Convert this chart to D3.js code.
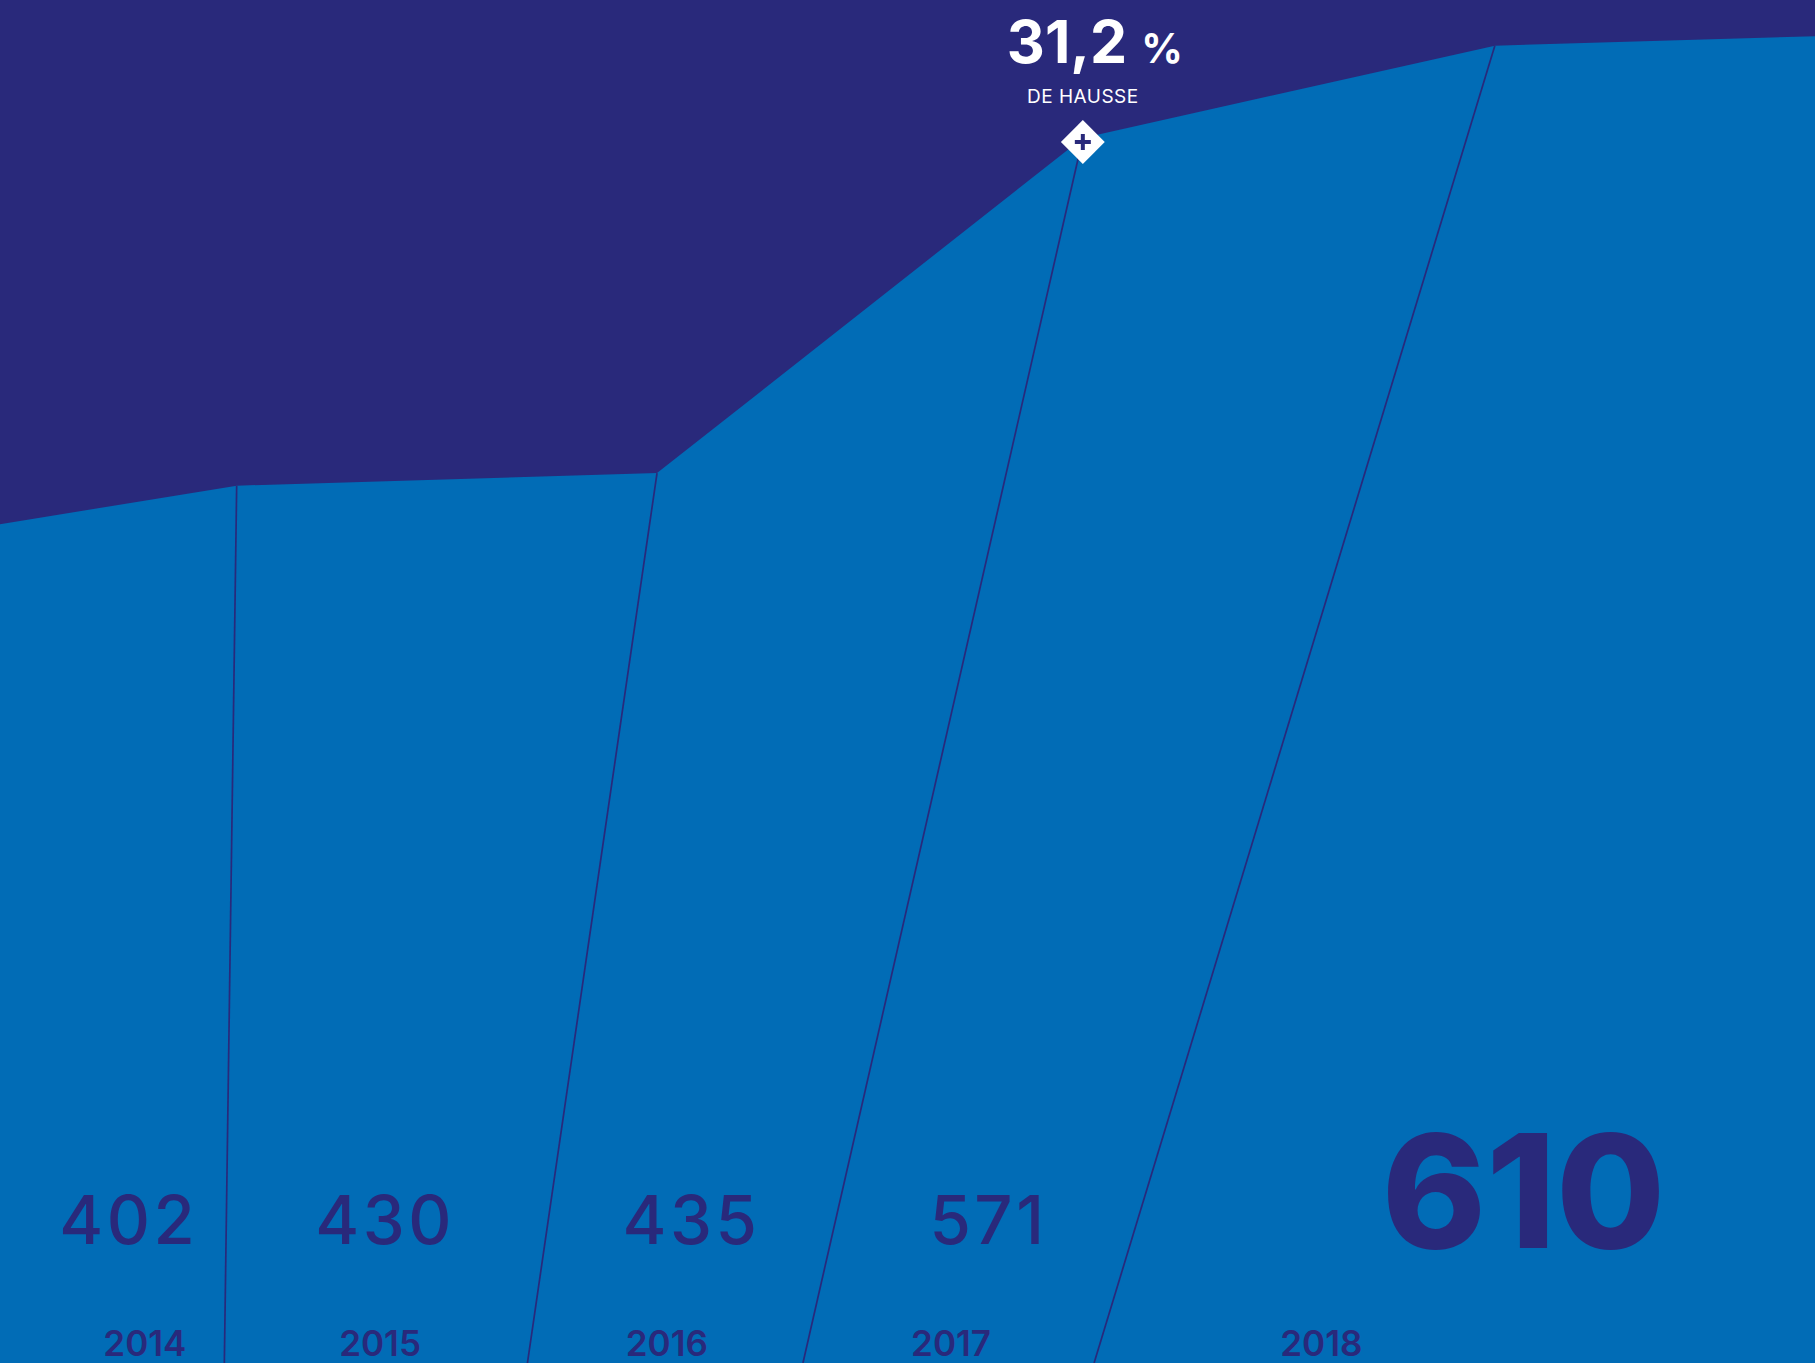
<!DOCTYPE html>
<html>
<meta charset="utf-8">
<style>
    html, body {
        margin: 0;
        padding: 0;
        overflow: hidden;
        background: #29297b;
    }
    text {
        font-family: Inter, "Noto Sans", sans-serif;
    }
</style>
<body>
<script src="https://d3js.org/d3.v7.min.js"></script>
<div id="chart"></div>
<script>
    // data
    var years = ["2014", "2015", "2016", "2017", "2018"];
    var values = [402, 430, 435, 571, 610];
    var growthLabel = "31,2";
    var growthCaption = "DE HAUSSE";

    // ridge of the blue shape (x in year units, level in value units)
    var ridgePos = [0, 0.652, 1.810, 2.983, 4.118, 5];
    var ridgeLevel = [400.0, 418.4, 424.4, 584.2, 628.2, 632.7];
    // where each divider meets the bottom edge
    var footPos = [0.618, 1.453, 2.212, 3.014];
    // label anchors, year units
    var valuePos = [0.355, 1.061, 1.905, 2.723, 4.197];
    var yearPos = [0.399, 1.047, 1.837, 2.620, 3.640];

    var width = 1815,
        height = 1363;

    var dark = "#29297b",
        blue = "#016cb6";

    var x = d3.scaleLinear().domain([0, 5]).range([0, width]);
    var y = d3.scaleLinear().domain([0, 650]).range([height, 0]);

    var svg = d3.select("#chart").append("svg")
        .attr("width", width)
        .attr("height", height)
        .style("display", "block");

    svg.append("rect")
        .attr("width", width)
        .attr("height", height)
        .attr("fill", dark);

    var ridge = ridgePos.map(function (p, i) { return { p: p, v: ridgeLevel[i] }; });

    var area = d3.area()
        .x(function (d) { return x(d.p); })
        .y0(height)
        .y1(function (d) { return y(d.v); });

    svg.append("path")
        .datum(ridge)
        .attr("d", area)
        .attr("fill", blue);

    // slanted dividers between the years
    var line = d3.line()
        .x(function (d) { return x(d.p); })
        .y(function (d) { return y(d.v); });

    svg.selectAll(".divider")
        .data(footPos)
        .enter().append("path")
        .attr("class", "divider")
        .attr("d", function (f, i) {
            return line([ridge[i + 1], { p: f, v: 0 }]);
        })
        .attr("fill", "none")
        .attr("stroke", dark)
        .attr("stroke-width", 1.7);

    // values
    var last = values.length - 1;
    svg.selectAll(".value")
        .data(values)
        .enter().append("text")
        .attr("class", "value")
        .attr("x", function (d, i) { return x(valuePos[i]); })
        .attr("y", function (d, i) { return i === last ? 1248 : 1244; })
        .attr("text-anchor", "middle")
        .attr("fill", dark)
        .style("font-weight", function (d, i) { return i === last ? 800 : 500; })
        .style("font-size", function (d, i) { return i === last ? "158px" : "67px"; })
        .style("letter-spacing", function (d, i) { return i === last ? "0px" : "3.5px"; })
        .text(function (d) { return d; });

    // years
    svg.selectAll(".year")
        .data(years)
        .enter().append("text")
        .attr("class", "year")
        .attr("x", function (d, i) { return x(yearPos[i]); })
        .attr("y", 1356)
        .attr("text-anchor", "middle")
        .attr("fill", dark)
        .style("font-weight", 600)
        .style("font-size", "35px")
        .text(function (d) { return d; });

    // growth marker on the 2017 vertex
    var mx = x(ridgePos[3]),
        my = y(ridgeLevel[3]) + 4;

    var marker = svg.append("g")
        .attr("transform", "translate(" + mx + "," + my + ")");

    marker.append("rect")
        .attr("x", -15.5).attr("y", -15.5)
        .attr("width", 31).attr("height", 31)
        .attr("transform", "rotate(45)")
        .attr("fill", "#fff");

    marker.append("path")
        .attr("d", "M-8,0H8M0,-8V8")
        .attr("stroke", dark)
        .attr("stroke-width", 4);

    var label = svg.append("text")
        .attr("x", mx + 12)
        .attr("y", 63)
        .attr("text-anchor", "middle")
        .attr("fill", "#fff")
        .style("font-weight", 700);
    label.append("tspan")
        .style("font-size", "59px")
        .text(growthLabel);
    label.append("tspan")
        .attr("dx", 14)
        .style("font-size", "41px")
        .text("%");

    svg.append("text")
        .attr("x", mx)
        .attr("y", 103)
        .attr("text-anchor", "middle")
        .attr("fill", "#fff")
        .style("font-size", "19px")
        .style("letter-spacing", "0.5px")
        .text(growthCaption);
</script>
</body>
</html>
